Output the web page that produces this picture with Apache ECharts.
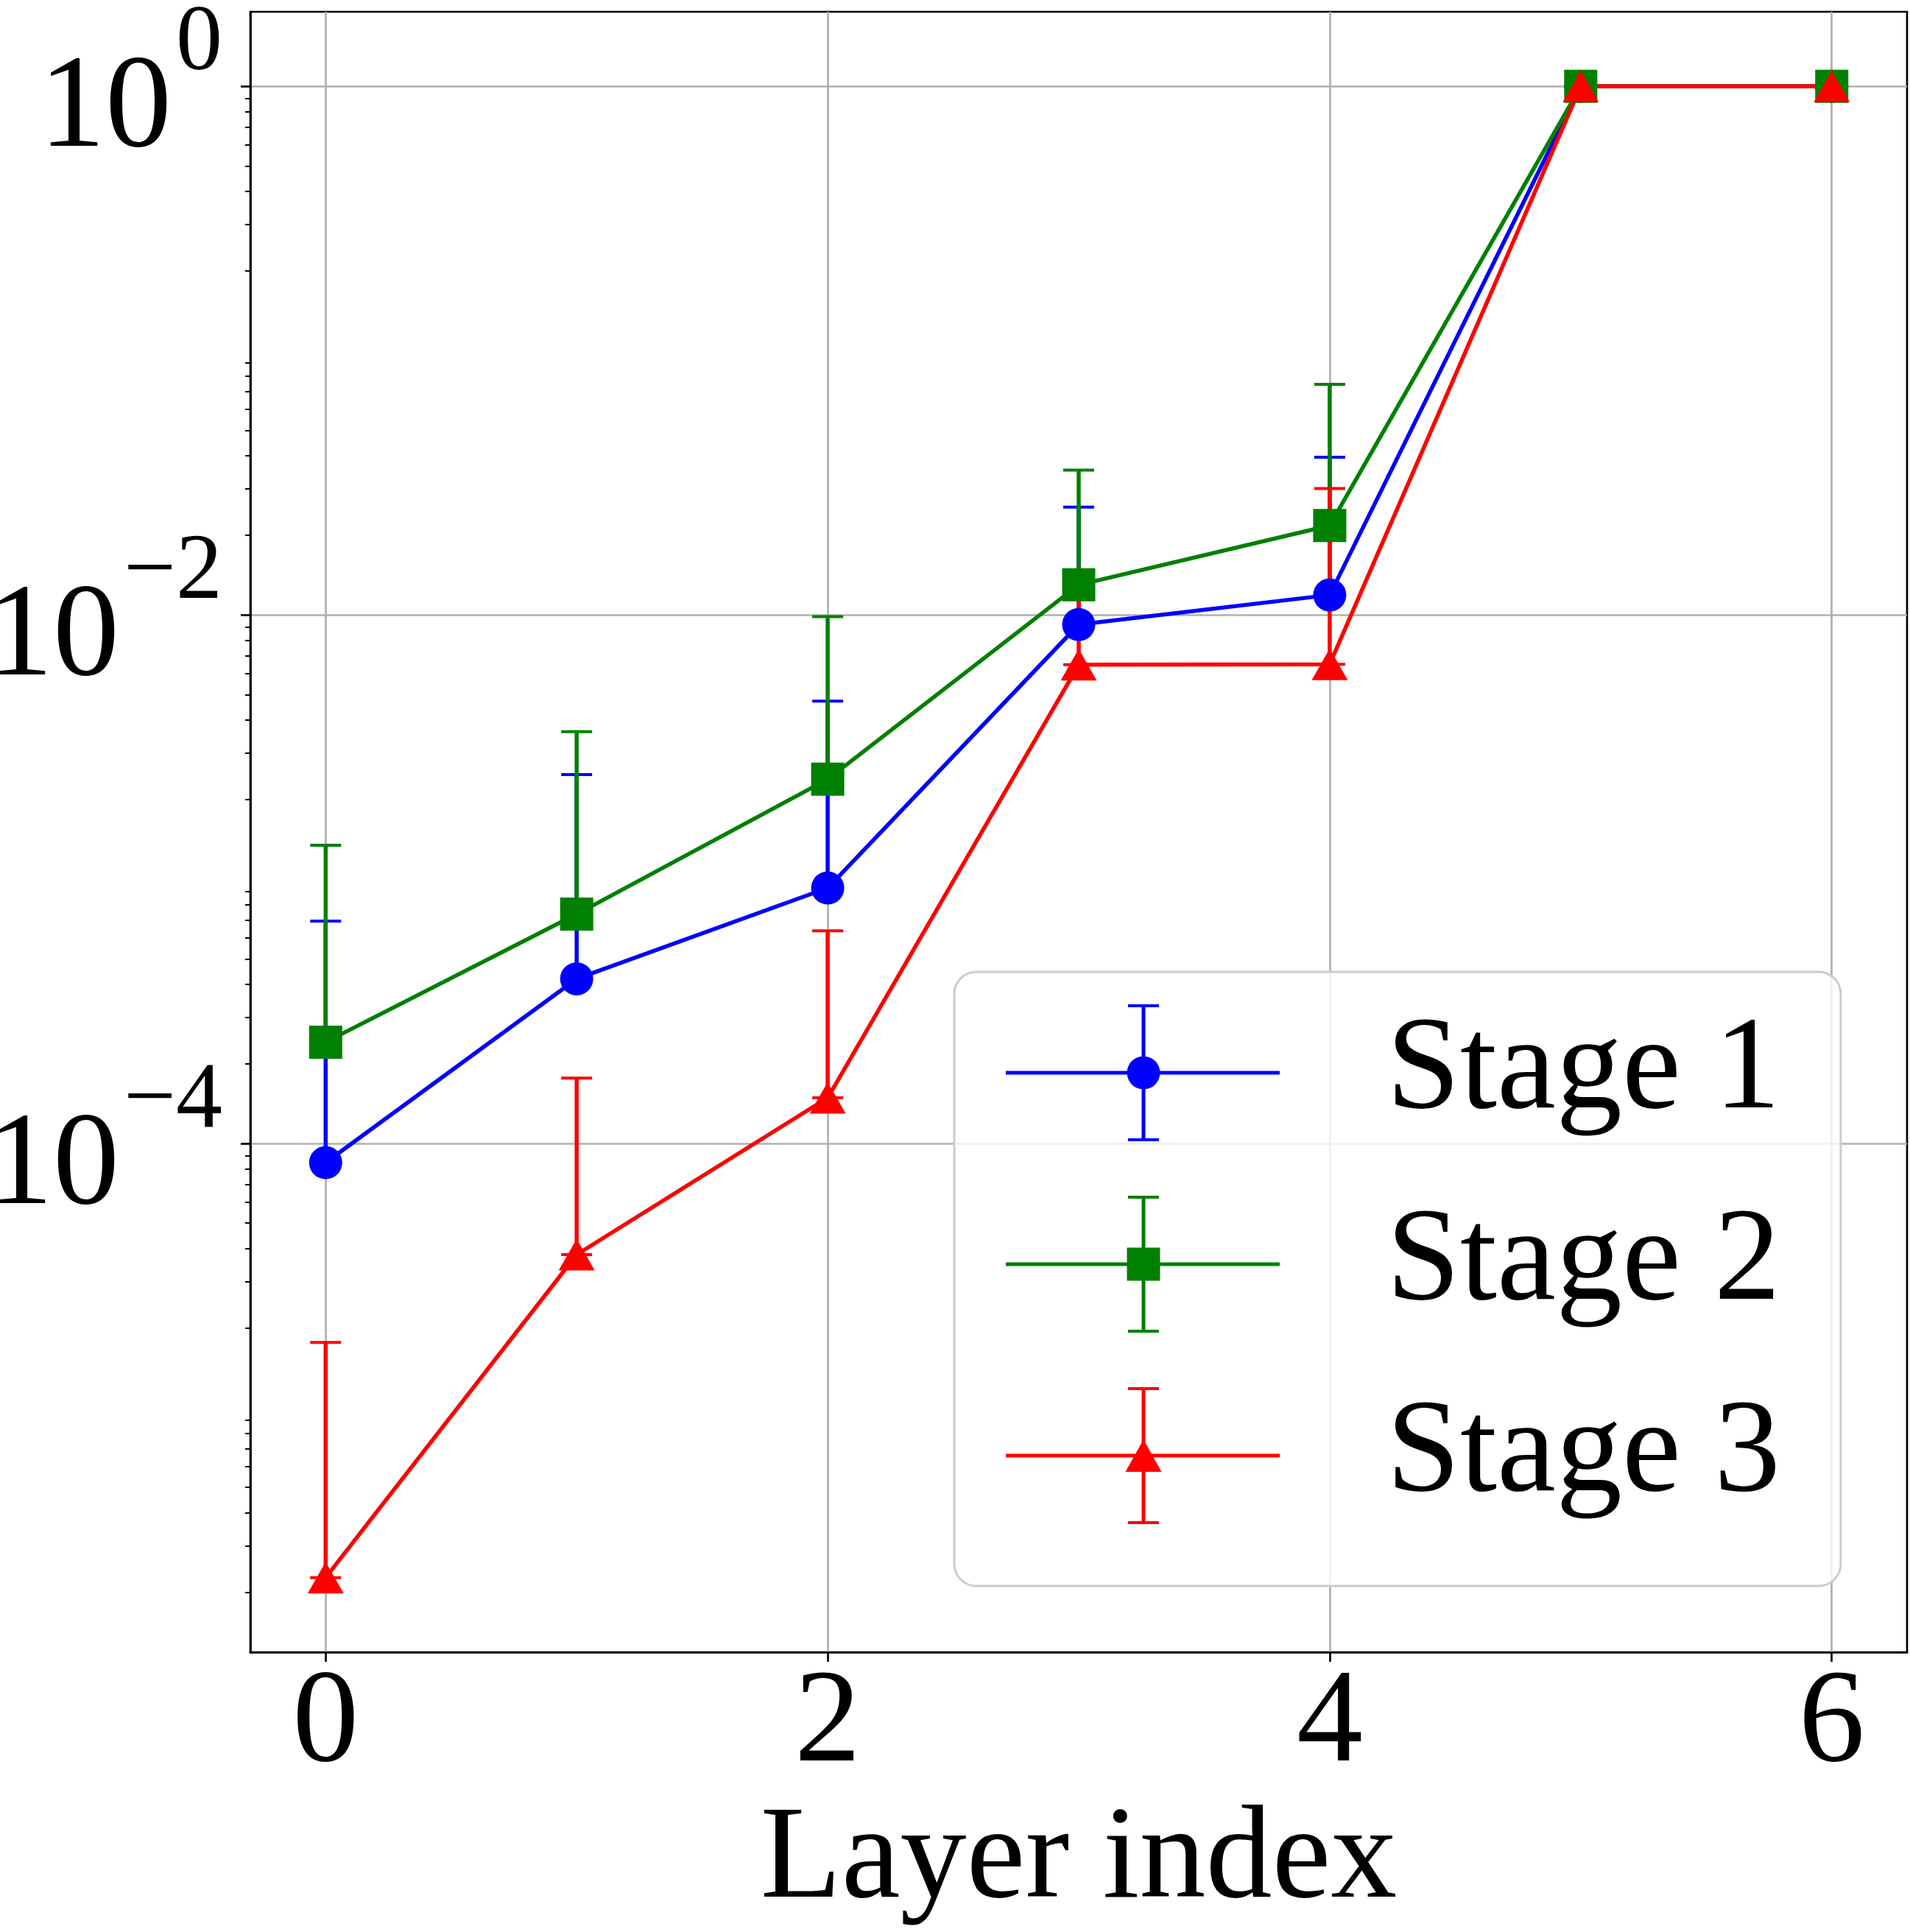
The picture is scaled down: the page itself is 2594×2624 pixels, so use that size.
<!DOCTYPE html>
<html>
<head>
<meta charset="utf-8">
<title>Layer index</title>
<script src="https://cdn.jsdelivr.net/npm/echarts@6/dist/echarts.min.js"></script>
<style>
html, body { margin: 0; padding: 0; background: #fff; }
#chart { width: 2594px; height: 2624px; }
</style>
</head>
<body>
<div id="chart"></div>
<script>
// data (raw values, log y axis)
var layers = [0, 1, 2, 3, 4, 5, 6];
var stage1Mean  = [8.47e-5, 4.2e-4, 9.27e-4, 9.2e-3, 1.19e-2, 1, 1];
var stage1Upper = [6.95e-4, 2.49e-3, 4.72e-3, 2.56e-2, 3.95e-2];
var stage2Mean  = [2.42e-4, 7.38e-4, 2.39e-3, 1.30e-2, 2.18e-2, 1, 1];
var stage2Upper = [1.345e-3, 3.62e-3, 9.86e-3, 3.53e-2, 7.46e-2];
var stage3Mean  = [2.28e-6, 3.8e-5, 1.49e-4, 6.48e-3, 6.51e-3, 1, 1];
var stage3Upper = [1.77e-5, 1.77e-4, 6.38e-4, 1.25e-2, 3.01e-2];
var stageNames  = ['Stage 1', 'Stage 2', 'Stage 3'];

// axes
var xTicks = [0, 2, 4, 6];
var yTickExps = [-4, -2, 0];
var xRange = [-0.3, 6.3];
var yRange = [1.19e-6, 1.915];

var FONT = '"Liberation Serif", "Times New Roman", serif';
var lg = function (v) { return Math.log10(v); };

// minor ticks 2..9 x 10^n
var minorTicks = [];
for (var n = -6; n <= 0; n++) {
    for (var k = 2; k <= 9; k++) {
        var v = k * Math.pow(10, n);
        if (v > yRange[0] && v < yRange[1]) minorTicks.push(lg(v));
    }
}

// legend icons: line + errorbar + marker, drawn in a 372 x 186 box
var iconBase = 'M0 90.5H372V95.5H0Z M184.5 2H189.5V184H184.5Z M166 0H208V4H166Z M166 182H208V186H166Z ';
var icons = [
    'path://' + iconBase + 'M164.5 93A22.5 22.5 0 1 1 209.5 93A22.5 22.5 0 1 1 164.5 93Z',
    'path://' + iconBase + 'M164.5 70.5H209.5V115.5H164.5Z',
    'path://' + iconBase + 'M187 71L211.5 115L162.5 115Z'
];

var myChart = echarts.init(document.getElementById('chart'));

function lineSeries(name, mean, symbol, size, color) {
    return {
        name: name,
        type: 'line',
        z: 3,
        data: layers.map(function (x, i) { return [x, lg(mean[i])]; }),
        symbol: symbol,
        symbolSize: size,
        lineStyle: { color: color, width: 5.5 },
        itemStyle: { color: color },
        emphasis: { disabled: true }
    };
}

function errSeries(mean, upper, color) {
    return {
        type: 'custom',
        z: 2,
        silent: true,
        encode: { x: 0, y: [1, 2] },
        data: upper.map(function (u, i) { return [layers[i], lg(mean[i]), lg(u)]; }),
        renderItem: function (params, api) {
            var x = api.value(0);
            var top = api.coord([x, api.value(2)]);
            var bot = api.coord([x, api.value(1)]);
            var half = 21;
            return {
                type: 'group',
                children: [
                    { type: 'line', shape: { x1: top[0], y1: top[1], x2: bot[0], y2: bot[1] },
                      style: { stroke: color, lineWidth: 5.5 } },
                    { type: 'line', shape: { x1: top[0] - half, y1: top[1], x2: top[0] + half, y2: top[1] },
                      style: { stroke: color, lineWidth: 4 } },
                    { type: 'line', shape: { x1: bot[0] - half, y1: bot[1], x2: bot[0] + half, y2: bot[1] },
                      style: { stroke: color, lineWidth: 4 } }
                ]
            };
        }
    };
}

var option = {
    animation: false,
    backgroundColor: '#fff',
    grid: {
        left: 340, top: 16, right: 4, bottom: 380,
        outerBoundsMode: 'none',
        containLabel: false,
        show: true, borderColor: '#000', borderWidth: 2.7, backgroundColor: 'transparent'
    },
    legend: {
        orient: 'vertical',
        left: 1296, top: 1320,
        padding: [44, 82, 84, 70],
        itemGap: 74, itemWidth: 372, itemHeight: 186,
        backgroundColor: 'rgba(255,255,255,0.8)',
        borderColor: '#cccccc', borderWidth: 3, borderRadius: 30,
        selectedMode: false,
        z: 10,
        itemStyle: { borderWidth: 0 },
        textStyle: { fontFamily: FONT, fontSize: 180, color: '#000', padding: [0, 0, 0, 140] },
        data: stageNames.map(function (s, i) { return { name: s, icon: icons[i] }; })
    },
    xAxis: {
        type: 'value',
        min: xRange[0], max: xRange[1], splitNumber: 3,
        name: 'Layer index', nameLocation: 'middle', nameGap: 195,
        nameTextStyle: { fontFamily: FONT, fontSize: 180, color: '#000' },
        axisLine: { show: true, onZero: false, lineStyle: { color: '#000', width: 2.7 } },
        axisTick: { show: true, customValues: xTicks, length: 13, lineStyle: { color: '#000', width: 2.7 } },
        axisLabel: { customValues: xTicks, fontFamily: FONT, fontSize: 180, color: '#000', margin: 10 },
        splitLine: { show: true, lineStyle: { color: '#b0b0b0', width: 2.7 } }
    },
    yAxis: [{
        type: 'value',
        min: lg(yRange[0]), max: lg(yRange[1]),
        axisLine: { show: true, onZero: false, lineStyle: { color: '#000', width: 2.7 } },
        axisTick: { show: true, customValues: yTickExps, length: 13, lineStyle: { color: '#000', width: 2.7 } },
        axisLabel: {
            customValues: yTickExps,
            margin: 38,
            padding: [4, 0, 0, 0],
            formatter: function (val) {
                var e = Math.round(val);
                return '{b|10}{s|' + (e < 0 ? '\u2212' + (-e) : e) + '}';
            },
            rich: {
                b: { fontFamily: FONT, fontSize: 180, lineHeight: 180, verticalAlign: 'bottom', color: '#000' },
                s: { fontFamily: FONT, fontSize: 126, verticalAlign: 'bottom', padding: [0, 0, 117, 6], color: '#000' }
            }
        },
        splitLine: { show: true, lineStyle: { color: '#b0b0b0', width: 2.7 } }
    }, {
        type: 'value',
        position: 'left',
        min: lg(yRange[0]), max: lg(yRange[1]),
        axisLine: { show: false, onZero: false },
        axisTick: { show: true, customValues: minorTicks, length: 7, lineStyle: { color: '#000', width: 2 } },
        axisLabel: { show: false },
        splitLine: { show: false }
    }],
    series: [
        errSeries(stage1Mean, stage1Upper, '#0000ff'),
        errSeries(stage2Mean, stage2Upper, '#008000'),
        errSeries(stage3Mean, stage3Upper, '#ff0000'),
        lineSeries(stageNames[0], stage1Mean, 'circle', 45, '#0000ff'),
        lineSeries(stageNames[1], stage2Mean, 'rect', 45, '#008000'),
        lineSeries(stageNames[2], stage3Mean, 'triangle', [49, 43], '#ff0000')
    ]
};

myChart.setOption(option);
</script>
</body>
</html>
